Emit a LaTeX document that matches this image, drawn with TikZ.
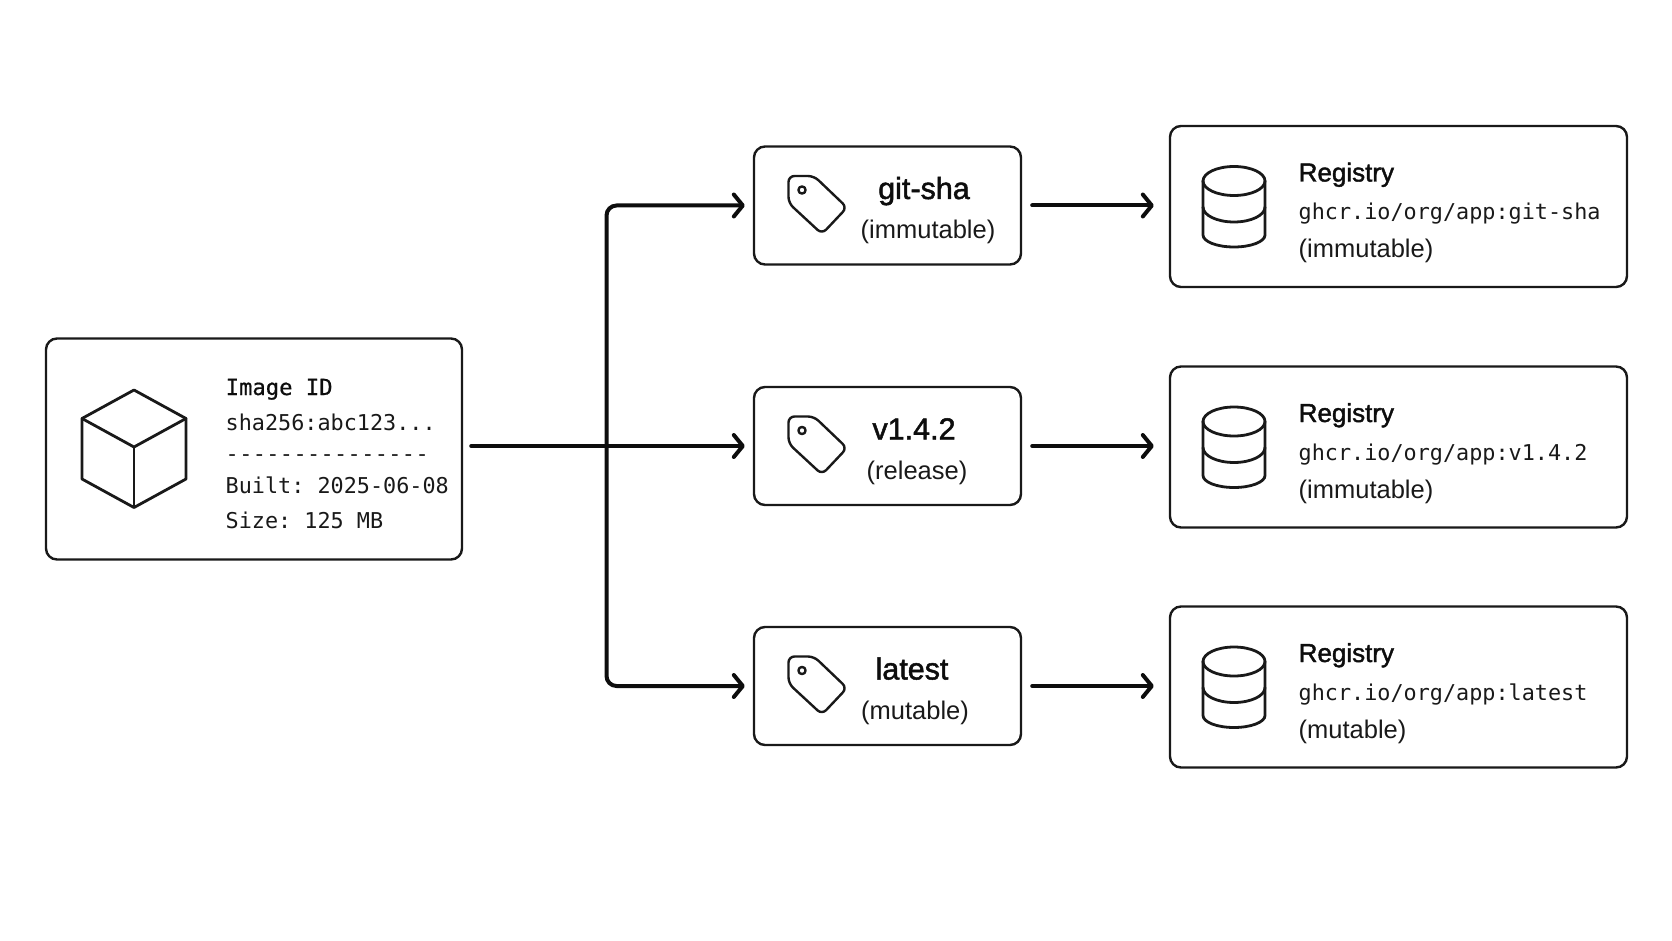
\documentclass[tikz,border=0pt]{standalone}
\usepackage{fontspec}
\setmainfont{Liberation Sans}
\newfontfamily\codefont{DejaVu Sans Mono}
\newfontfamily\codeheadfont[FakeBold=0.7]{DejaVu Sans Mono}
\newfontfamily\headfont[FakeBold=1.6]{Liberation Sans}
\usetikzlibrary{arrows.meta}

\tikzset{
    card/.style={draw=black!90, line width=2.4pt, rounded corners=11pt, inner sep=0pt},
    icon/.style={draw=black!90, line width=2.8pt, line join=round, line cap=round},
    flow/.style={draw=black!95, line width=4pt, line cap=round,
        -{Straight Barb[length=9pt, width=22pt, round]}},
    codetext/.style={anchor=base west, inner sep=0pt, text=black!90, font=\fontsize{21.8}{26}\selectfont\codefont\frenchspacing},
    codehead/.style={anchor=base west, inner sep=0pt, text=black!95, font=\fontsize{22.2}{26}\selectfont\codeheadfont\frenchspacing},
    subtext/.style={inner sep=0pt, text=black!90, font=\fontsize{25.5}{30}\selectfont},
    tagtitle/.style={anchor=base, inner sep=0pt, text=black!95, font=\fontsize{30.5}{34}\selectfont\headfont},
    reghead/.style={anchor=base west, inner sep=0pt, text=black!95, font=\fontsize{26}{30}\selectfont\headfont},
}

\begin{document}
\begin{tikzpicture}[x=1pt, y=-1pt]
    \useasboundingbox (0, 0) rectangle (1672, 941);

    % image box
    \node[card, minimum width=416pt, minimum height=221pt] (image) at (254, 449) {};
    \draw[icon] (134, 390) -- (186, 418.5) -- (186, 479) -- (134, 507.5) -- (82, 479) -- (82, 418.5) -- cycle;
    \draw[icon] (82, 418.5) -- (134, 447) -- (186, 418.5);
    \draw[icon] (134, 447) -- (134, 507.5);

    \node[codehead] (imagehead) at (225.5, 395) {Image ID};
    \node[codetext] (imagesha) at (225.5, 430) {sha256:abc123...};
    \node[codetext] (imagerule) at (225.5, 461) {\addfontfeature{LetterSpace=2}---------------};
    \node[codetext] (imagebuilt) at (225.5, 493) {Built: 2025-06-08};
    \node[codetext] (imagesize) at (225.5, 528.5) {Size: 125 MB};

    % one row: tag box and registry box
    \foreach \nm/\y/\tagname/\tagx/\tagsub/\subx/\url/\regsub in {
        a/205.5/{git-sha}/924/{(immutable)}/928/{git-sha}/{(immutable)},
        b/446/{v1.4.2}/914/{(release)}/917/{v1.4.2}/{(immutable)},
        c/686/{latest}/912/{(mutable)}/915/{latest}/{(mutable)}} {
        \node[card, minimum width=267pt, minimum height=118pt] (tag\nm) at (887.5, \y) {};
        \node[card, minimum width=457pt, minimum height=161pt] (reg\nm) at (1398.5, \y + 1) {};

        \begin{scope}[shift={(0, \y)}]
            % tag icon
            \draw[icon, line width=2.4pt, rounded corners=6pt] (788.5, -29.5) -- (814, -29.5) -- (847, 2) -- (822, 28.5) -- (788.5, -2.5) -- cycle;
            \draw[icon, line width=2.4pt] (802, -15.5) circle [radius=3.6];

            % database icon
            \draw[icon] (1234, -24.5) ellipse [x radius=31, y radius=14.5];
            \draw[icon] (1203, -24.5) -- (1203, 29.5) arc [start angle=180, end angle=0, x radius=31, y radius=12] -- (1265, -24.5);
            \draw[icon] (1203, 1.5) arc [start angle=180, end angle=0, x radius=31, y radius=15];
        \end{scope}

        \node[tagtitle] (tagname\nm) at (\tagx, \y - 6.5) {\tagname};
        \node[subtext, anchor=base] (tagsub\nm) at (\subx, \y + 33.5) {\tagsub};

        \node[reghead] (reghead\nm) at (1298.5, \y - 24) {Registry};
        \node[codetext] (regurl\nm) at (1298.5, \y + 14) {ghcr.io/org/app:\url};
        \node[subtext, anchor=base west] (regsub\nm) at (1298.5, \y + 52) {\regsub};

        \draw[flow, shorten <=10pt, shorten >=15pt] (tag\nm.east) -- (tag\nm.east -| reg\nm.west);
    }

    % fork out of the image box
    \coordinate (fork) at (606.5, 446);
    \draw[flow, shorten <=8pt, shorten >=8pt] (image.east |- tagb.west) -- (tagb.west);
    \draw[flow, shorten >=8pt, rounded corners=10pt] (fork) |- (taga.west);
    \draw[flow, shorten >=8pt, rounded corners=10pt] (fork) |- (tagc.west);
\end{tikzpicture}
\end{document}
